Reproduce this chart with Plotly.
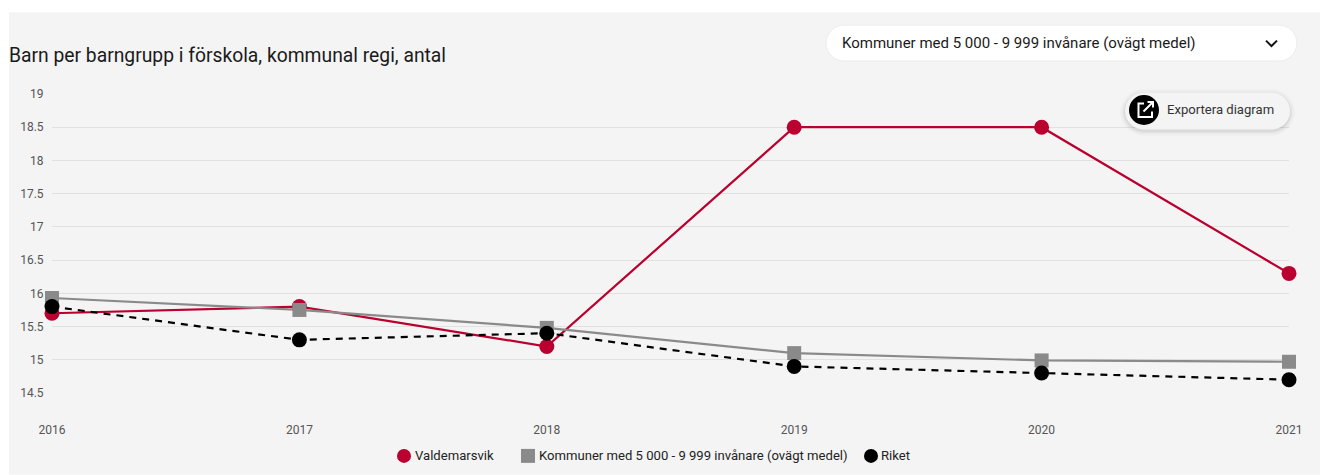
import plotly.graph_objects as go

W, H = 1328, 475
OFF = 8  # the page places the figure 8 px in from the top left corner
L, R, T, B = 52, 1289, 93.5, 393

years = ["2016", "2017", "2018", "2019", "2020", "2021"]
valdemarsvik = [15.7, 15.8, 15.2, 18.5, 18.5, 16.3]
kommuner = [15.93, 15.75, 15.48, 15.1, 14.99, 14.97]
riket = [15.8, 15.3, 15.4, 14.9, 14.8, 14.7]
y_ticks = [14.5, 15, 15.5, 16, 16.5, 17, 17.5, 18, 18.5, 19]
y_labels = ["14.5", "15", "15.5", "16", "16.5", "17", "17.5", "18", "18.5", "19"]
name_v = "Valdemarsvik"
name_k = "Kommuner med 5 000 - 9 999 invånare (ovägt medel)"
name_r = "Riket"
title_text = "Barn per barngrupp i förskola, kommunal regi, antal"
dropdown_text = "Kommuner med 5 000 - 9 999 invånare (ovägt medel)"
export_text = "Exportera diagram"

RED, GREY, BLACK = "#b9002f", "#8a8a8a", "#000000"
FONT = "Roboto, sans-serif"


def px(x):
    return (x - L) / (R - L)


def py(y):
    return (B - y) / (B - T)


def pill(x0, y0, x1, y1, **kw):
    r = (y1 - y0) / 2
    k = 0.45 * r
    d = (f"M {px(x0+r)} {py(y0)} L {px(x1-r)} {py(y0)} "
         f"C {px(x1-k)} {py(y0)} {px(x1)} {py(y0+k)} {px(x1)} {py(y0+r)} "
         f"C {px(x1)} {py(y1-k)} {px(x1-k)} {py(y1)} {px(x1-r)} {py(y1)} "
         f"L {px(x0+r)} {py(y1)} "
         f"C {px(x0+k)} {py(y1)} {px(x0)} {py(y1-k)} {px(x0)} {py(y0+r)} "
         f"C {px(x0)} {py(y0+k)} {px(x0+k)} {py(y0)} {px(x0+r)} {py(y0)} Z")
    return dict(type="path", xref="paper", yref="paper", path=d, **kw)


def polyline(pts, color, width):
    d = "M " + " L ".join(f"{px(a)} {py(b)}" for a, b in pts)
    return dict(type="path", xref="paper", yref="paper", path=d,
                line=dict(color=color, width=width), layer="above")


def label(text, x, y, size, color):
    return dict(text=text, xref="paper", yref="paper", x=px(x), y=py(y),
                xanchor="left", yanchor="middle", showarrow=False,
                font=dict(family=FONT, size=size, color=color))


fig = go.Figure()
series = [
    (name_v, valdemarsvik, RED, "solid", "circle", 15),
    (name_k, kommuner, GREY, "solid", "square", 14),
    (name_r, riket, BLACK, "dash", "circle", 15),
]
for name, vals, color, dash, sym, size in series:
    fig.add_trace(go.Scatter(
        x=years, y=vals, mode="lines+markers", name=name, showlegend=False,
        line=dict(color=color, width=2.2, dash="7px,6px" if dash == "dash" else "solid"),
        marker=dict(color=color, symbol=sym, size=size),
        cliponaxis=False,
    ))

shapes = [
    dict(type="rect", xref="paper", yref="paper", x0=px(9), x1=px(1322),
         y0=py(11.5), y1=py(H), fillcolor="#f4f4f4", line_width=0, layer="below"),
    pill(826, 24.5, 1297, 60.5, fillcolor="#ffffff", line=dict(color="#ececec", width=1), layer="above"),
    polyline([(1266, 40), (1271.5, 45.5), (1277, 40)], "#111111", 2),
]
for grow, alpha in [(5, 0.015), (3.5, 0.02), (2, 0.03), (1, 0.04)]:
    shapes.append(pill(1125 - grow, 92 - grow + 1.5, 1290 + grow, 129 + grow + 1.5,
                       fillcolor=f"rgba(0,0,0,{alpha})", line_width=0, layer="above"))
shapes += [
    pill(1125, 92, 1290, 129, fillcolor="#f4f4f4", line_width=0, layer="above"),
    dict(type="circle", xref="paper", yref="paper", x0=px(1129), x1=px(1159),
         y0=py(94.5), y1=py(124.5), fillcolor="#000000", line_width=0, layer="above"),
    polyline([(1144, 103), (1138.5, 103), (1138.5, 116.5), (1152, 116.5), (1152, 111)], "#ffffff", 2),
    polyline([(1143.5, 111), (1152.5, 102)], "#ffffff", 2),
    polyline([(1147.5, 101.5), (1153, 101.5), (1153, 107)], "#ffffff", 2),
    # legend keys
    dict(type="circle", xref="paper", yref="paper", x0=px(397), x1=px(411),
         y0=py(449), y1=py(463), fillcolor=RED, line_width=0, layer="above"),
    dict(type="rect", xref="paper", yref="paper", x0=px(521), x1=px(535),
         y0=py(449), y1=py(463), fillcolor=GREY, line_width=0, layer="above"),
    dict(type="circle", xref="paper", yref="paper", x0=px(864), x1=px(878),
         y0=py(449), y1=py(463), fillcolor=BLACK, line_width=0, layer="above"),
]

annotations = [
    label(title_text, 7, 54.5, 19.3, "#1a1a1a"),
    label(dropdown_text, 840, 42.5, 15, "#1a1a1a"),
    label(export_text, 1165, 109.5, 13.1, "#333333"),
    label(name_v, 412.5, 455.5, 13.1, "#222222"),
    label(name_k, 536.5, 455.5, 13.1, "#222222"),
    label(name_r, 879.5, 455.5, 13.1, "#222222"),
]

fig.update_layout(
    width=W - OFF, height=H - OFF, autosize=False,
    margin=dict(l=L - OFF, r=W - R, t=T - OFF, b=H - B, pad=0),
    paper_bgcolor="#ffffff", plot_bgcolor="rgba(0,0,0,0)",
    font=dict(family=FONT, size=12, color="#555555"),
    shapes=shapes, annotations=annotations,
    hovermode=False, showlegend=False,
    xaxis=dict(type="category", range=[0, 5], showgrid=False, zeroline=False,
               showline=False, ticks="outside", ticklen=26, tickcolor="rgba(0,0,0,0)",
               tickfont=dict(family=FONT, size=12, color="#555555")),
    yaxis=dict(range=[14.5, 19], tickmode="array", tickvals=y_ticks, ticktext=y_labels,
               showgrid=True, gridcolor="#e1e1e1", gridwidth=1.3, zeroline=False, showline=False,
               ticks="outside", ticklen=5, tickcolor="rgba(0,0,0,0)",
               tickfont=dict(family=FONT, size=12, color="#555555")),
)

fig.write_html("out.html")
